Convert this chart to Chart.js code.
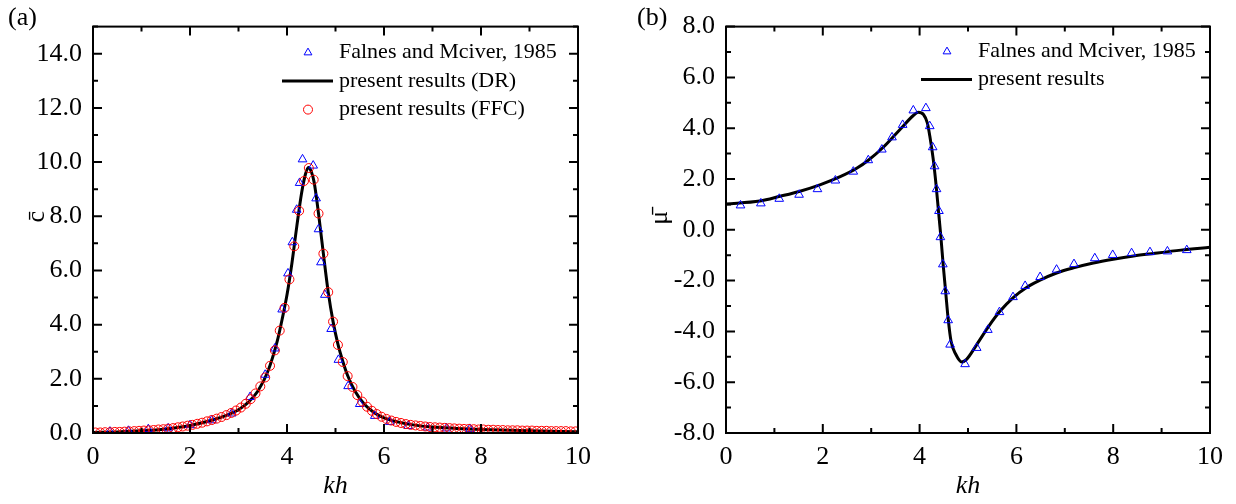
<!DOCTYPE html>
<html>
<head>
<meta charset="utf-8">
<script src="https://cdn.jsdelivr.net/npm/chart.js@4.4.1/dist/chart.umd.min.js"></script>
<style>
  body { margin: 0; background: #fff; }
  #wrap { position: relative; width: 1236px; height: 504px; }
  .panel { position: absolute; top: 0; height: 504px; }
  .tag { position: absolute; top: 0; font: 26px "Liberation Serif", serif; line-height: 34px; }
</style>
</head>
<body>
<div id="wrap">
  <div class="panel" style="left:0;width:610px"><canvas id="chartC"></canvas></div>
  <div class="panel" style="left:620px;width:616px"><canvas id="chartMu"></canvas></div>
  <div class="tag" style="left:8px">(a)</div>
  <div class="tag" style="left:637px">(b)</div>
</div>
<script>
/* ---------- data (a): c bar vs kh ---------- */
const khTicks = [0, 2, 4, 6, 8, 10];
const cTicks = [0, 2, 4, 6, 8, 10, 12, 14];
const muTicks = [-8, -6, -4, -2, 0, 2, 4, 6, 8];

// Falnes and Mciver, 1985
const cRefKh = [0.35, 0.73, 1.14, 1.55, 2.0, 2.45, 2.86, 3.24, 3.55, 3.75, 3.9, 4.02, 4.11, 4.2, 4.26, 4.32,
  4.54, 4.6, 4.65, 4.7, 4.78, 4.91, 5.06, 5.26, 5.5, 5.81, 6.12, 6.5, 6.9, 7.29, 7.77];
const cRef = [0.05, 0.08, 0.14, 0.17, 0.29, 0.47, 0.72, 1.33, 2.15, 3.12, 4.56, 5.89, 7.04, 8.24, 9.23, 10.1,
  9.87, 8.66, 7.52, 6.3, 5.1, 3.84, 2.7, 1.73, 1.07, 0.63, 0.41, 0.26, 0.2, 0.17, 0.15];

// present results (DR)
const cLineKh = [0, 0.5, 1.0, 1.5, 2.0, 2.5, 2.8, 3.0, 3.2, 3.4, 3.6, 3.8, 3.9, 4.0, 4.1, 4.2, 4.3, 4.38, 4.44,
  4.5, 4.56, 4.65, 4.75, 4.85, 4.95, 5.05, 5.15, 5.25, 5.4, 5.6, 5.8, 6.0, 6.3, 6.6, 7.0, 7.5, 8.0, 9.0, 10];
const cLine = [0.02, 0.04, 0.08, 0.15, 0.28, 0.5, 0.69, 0.86, 1.13, 1.55, 2.25, 3.4, 4.2, 5.1, 6.25, 7.6, 8.85, 9.55, 9.8,
  9.65, 9.25, 8.1, 6.62, 5.2, 4.11, 3.28, 2.65, 2.12, 1.55, 1.05, 0.75, 0.56, 0.4, 0.3, 0.22, 0.17, 0.13, 0.08, 0.05];

// present results (FFC)
const cFfcKh = [0.05, 0.15, 0.25, 0.35, 0.45, 0.55, 0.65, 0.75, 0.85, 0.95, 1.05, 1.15, 1.25, 1.35, 1.45, 1.55, 1.65,
  1.75, 1.85, 1.95, 2.05, 2.15, 2.25, 2.35, 2.45, 2.55, 2.65, 2.75, 2.85, 2.95, 3.05, 3.15, 3.25, 3.35, 3.45, 3.55,
  3.65, 3.75, 3.85, 3.95, 4.05, 4.15, 4.25, 4.35, 4.45, 4.55, 4.65, 4.75, 4.85, 4.95, 5.05, 5.15, 5.25, 5.35, 5.45,
  5.55, 5.65, 5.75, 5.85, 5.95, 6.05, 6.15, 6.25, 6.35, 6.45, 6.55, 6.65, 6.75, 6.85, 6.95, 7.05, 7.15, 7.25, 7.35,
  7.45, 7.55, 7.65, 7.75, 7.85, 7.95, 8.05, 8.15, 8.25, 8.35, 8.45, 8.55, 8.65, 8.75, 8.85, 8.95, 9.05, 9.15, 9.25,
  9.35, 9.45, 9.55, 9.65, 9.75, 9.85, 9.95];
const cFfc = [0.02, 0.02, 0.03, 0.03, 0.04, 0.04, 0.05, 0.06, 0.07, 0.08, 0.09, 0.10, 0.11, 0.13, 0.14, 0.16, 0.18,
  0.21, 0.24, 0.27, 0.30, 0.34, 0.38, 0.43, 0.48, 0.53, 0.59, 0.66, 0.74, 0.83, 0.94, 1.08, 1.25, 1.46, 1.72, 2.05,
  2.48, 3.05, 3.78, 4.62, 5.67, 6.89, 8.20, 9.30, 9.78, 9.35, 8.10, 6.62, 5.20, 4.11, 3.25, 2.62, 2.10, 1.70, 1.40,
  1.16, 0.97, 0.82, 0.70, 0.60, 0.52, 0.46, 0.41, 0.37, 0.33, 0.30, 0.28, 0.26, 0.24, 0.22, 0.21, 0.20, 0.19, 0.18,
  0.17, 0.16, 0.15, 0.15, 0.14, 0.13, 0.13, 0.12, 0.12, 0.11, 0.11, 0.10, 0.10, 0.10, 0.09, 0.09, 0.09, 0.08, 0.08,
  0.08, 0.07, 0.07, 0.07, 0.07, 0.06, 0.06];

/* ---------- data (b): mu bar vs kh ---------- */
const muRefKh = [0.30, 0.72, 1.10, 1.51, 1.89, 2.26, 2.63, 2.94, 3.22, 3.43, 3.65, 3.87, 4.13, 4.21, 4.27, 4.31, 4.35,
  4.40, 4.43, 4.48, 4.53, 4.59, 4.63, 4.94, 5.18, 5.41, 5.65, 5.93, 6.18, 6.49, 6.83, 7.19, 7.62, 7.99, 8.38, 8.76,
  9.12, 9.52];
const muRef = [0.96, 1.04, 1.22, 1.38, 1.60, 1.94, 2.29, 2.74, 3.16, 3.64, 4.13, 4.70, 4.79, 4.08, 3.25, 2.50, 1.60,
  0.74, -0.29, -1.36, -2.42, -3.56, -4.52, -5.29, -4.65, -3.94, -3.24, -2.65, -2.21, -1.86, -1.57, -1.35, -1.12,
  -0.99, -0.92, -0.88, -0.85, -0.80];

const muLineKh = [0, 0.7, 1.12, 1.53, 1.94, 2.36, 2.7, 2.94, 3.25, 3.6, 3.87, 3.97, 4.08, 4.16, 4.21, 4.28, 4.34,
  4.39, 4.44, 4.49, 4.54, 4.59, 4.65, 4.75, 4.87, 4.97, 5.18, 5.42, 5.66, 5.94, 6.21, 6.49, 6.83, 7.18, 7.59, 8.0,
  8.42, 8.83, 9.4, 10];
const muLine = [1.02, 1.13, 1.32, 1.52, 1.77, 2.09, 2.42, 2.74, 3.25, 3.96, 4.5, 4.63, 4.54, 4.21, 3.7, 2.8, 1.77,
  0.74, -0.28, -1.44, -2.47, -3.5, -4.39, -4.91, -5.2, -5.1, -4.52, -3.82, -3.21, -2.66, -2.27, -1.98, -1.7, -1.5,
  -1.31, -1.16, -1.03, -0.93, -0.8, -0.69];

/* ================= HELPERS ================= */
const SERIF = '"Liberation Serif", "Times New Roman", serif';
Chart.defaults.font.family = SERIF;
Chart.defaults.color = '#000';

function pontos(xs, ys) {
  return xs.map((x, i) => ({ x: x, y: ys[i] }));
}

function triangulos(label, xs, ys) {
  return {
    label: label, data: pontos(xs, ys), order: 1,
    pointStyle: 'triangle', pointRadius: 5, borderWidth: 1,
    borderColor: '#0000ff', backgroundColor: 'rgba(0,0,0,0)', showLine: false
  };
}

function linha(label, xs, ys) {
  return {
    label: label, data: pontos(xs, ys), order: 2,
    showLine: true, pointRadius: 0, borderWidth: 3, borderColor: '#000',
    cubicInterpolationMode: 'monotone'
  };
}

/* ================= PLUGINS ================= */
// closed box with inward ticks on all four sides
const moldura = {
  id: 'moldura',
  afterDraw(chart) {
    const { ctx, chartArea: a, scales } = chart;
    const xs = scales.x.ticks.map(t => t.value);
    const ys = scales.y.ticks.map(t => t.value);
    ctx.save();
    ctx.strokeStyle = '#000';
    ctx.lineWidth = 2;
    ctx.beginPath();
    xs.forEach((v, i) => {
      const marks = [[scales.x.getPixelForValue(v), 9]];
      if (i < xs.length - 1) marks.push([scales.x.getPixelForValue((v + xs[i + 1]) / 2), 5]);
      marks.forEach(([px, len]) => {
        ctx.moveTo(px, a.bottom); ctx.lineTo(px, a.bottom - len);
        ctx.moveTo(px, a.top); ctx.lineTo(px, a.top + len);
      });
    });
    ys.forEach((v, i) => {
      const marks = [[scales.y.getPixelForValue(v), 9]];
      if (i < ys.length - 1) marks.push([scales.y.getPixelForValue((v + ys[i + 1]) / 2), 5]);
      if (i === ys.length - 1 && scales.y.max > v) marks.push([scales.y.getPixelForValue(v + 1), 5]);
      marks.forEach(([py, len]) => {
        ctx.moveTo(a.left, py); ctx.lineTo(a.left + len, py);
        ctx.moveTo(a.right, py); ctx.lineTo(a.right - len, py);
      });
    });
    ctx.stroke();
    ctx.strokeRect(a.left, a.top, a.right - a.left, a.bottom - a.top);
    ctx.restore();
  }
};

// legend drawn inside the plot box
const legenda = {
  id: 'legenda',
  afterDraw(chart, args, opts) {
    const { ctx, chartArea: a } = chart;
    ctx.save();
    ctx.font = '22px ' + SERIF;
    ctx.textBaseline = 'middle';
    chart.data.datasets.forEach((ds, i) => {
      const cx = a.left + opts.x;
      const cy = a.top + opts.y + i * opts.gap;
      ctx.strokeStyle = ds.borderColor;
      if (ds.showLine) {
        ctx.lineWidth = ds.borderWidth;
        ctx.beginPath();
        ctx.moveTo(cx - 26, cy); ctx.lineTo(cx + 25, cy);
        ctx.stroke();
      } else {
        ctx.lineWidth = 1;
        ctx.fillStyle = 'rgba(0,0,0,0)';
        Chart.helpers.drawPoint(ctx, { pointStyle: ds.pointStyle, radius: 4.5, borderWidth: 1, rotation: 0 }, cx, cy);
      }
      ctx.fillStyle = '#000';
      ctx.fillText(ds.label, cx + 31, cy);
    });
    ctx.restore();
  }
};

// rotated y title (symbol with bar)
const tituloY = {
  id: 'tituloY',
  afterDraw(chart, args, opts) {
    const { ctx, chartArea: a } = chart;
    ctx.save();
    ctx.translate(a.left - opts.dx, (a.top + a.bottom) / 2 - opts.dy);
    ctx.rotate(-Math.PI / 2);
    ctx.font = '26px ' + SERIF;
    ctx.textAlign = 'center';
    ctx.textBaseline = 'middle';
    ctx.fillStyle = '#000';
    ctx.fillText(opts.text, 0, 0);
    ctx.restore();
  }
};

/* ================= GRAFICOS ================= */
function criarGrafico(id, datasets, yMin, yMax, yTicks, yWidth, padRight, legendOpts, titleOpts) {
  return new Chart(document.getElementById(id), {
    type: 'scatter',
    data: { datasets: datasets },
    plugins: [moldura, legenda, tituloY],
    options: {
      responsive: true,
      maintainAspectRatio: false,
      animation: false,
      layout: { padding: { left: 0, top: 18, right: padRight, bottom: 0 } },
      plugins: {
        legend: { display: false },
        tooltip: { enabled: false },
        legenda: legendOpts,
        tituloY: titleOpts
      },
      scales: {
        x: {
          type: 'linear', min: 0, max: 10,
          afterBuildTicks: s => { s.ticks = khTicks.map(v => ({ value: v })); },
          afterFit: s => { s.height = 71; },
          grid: { display: false, drawTicks: false },
          border: { display: false },
          ticks: { font: { size: 26 }, padding: 9, callback: v => String(v), maxRotation: 0 },
          title: { display: true, text: 'kh', font: { size: 26, style: 'italic' }, padding: { top: 0, bottom: 2 } }
        },
        y: {
          type: 'linear', min: yMin, max: yMax,
          afterBuildTicks: s => { s.ticks = yTicks.map(v => ({ value: v })); },
          afterFit: s => { s.width = yWidth; },
          grid: { display: false, drawTicks: false },
          border: { display: false },
          ticks: { font: { size: 26 }, padding: 11, callback: v => Number(v).toFixed(1) }
        }
      }
    }
  });
}

criarGrafico('chartC', [
  triangulos('Falnes and Mciver, 1985', cRefKh, cRef),
  linha('present results (DR)', cLineKh, cLine),
  {
    label: 'present results (FFC)', data: pontos(cFfcKh, cFfc), order: 0,
    pointStyle: 'circle', pointRadius: 4.5, borderWidth: 1,
    borderColor: '#ff0000', backgroundColor: 'rgba(0,0,0,0)', showLine: false
  }
], 0, 15, cTicks, 93, 32, { x: 215, y: 26, gap: 28.5 }, { text: 'c\u0304', dx: 56, dy: 13 });

criarGrafico('chartMu', [
  triangulos('Falnes and Mciver, 1985', muRefKh, muRef),
  linha('present results', muLineKh, muLine)
], -8, 8, muTicks, 106, 26, { x: 221, y: 25, gap: 28 }, { text: '\u03bc\u0304', dx: 66, dy: 12 });
</script>
</body>
</html>
